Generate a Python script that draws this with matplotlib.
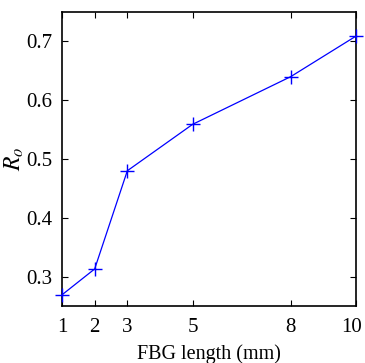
import numpy as np
import matplotlib
matplotlib.use("Agg")
import matplotlib.pyplot as plt
import matplotlib.transforms as mtransforms

# FBG length (mm) vs R_o
fbg_length = [1, 2, 3, 5, 8, 10]
r_o = [0.269, 0.313, 0.480, 0.559, 0.640, 0.709]
xtick_vals = [1, 2, 3, 5, 8, 10]
ytick_vals = [0.3, 0.4, 0.5, 0.6, 0.7]

plt.rcParams['font.family'] = ['Liberation Serif', 'DejaVu Serif']
plt.rcParams['mathtext.fontset'] = 'stix'

fig = plt.figure(figsize=(3.65, 3.63), dpi=100)
ax = fig.add_axes([62/365, 1-306/363, 294/365, 294/363])

ax.plot(fbg_length, r_o, color='blue', lw=0.9, marker='+', ms=10, mew=1.0,
        clip_on=False, zorder=5)

ax.set_xlim(1, 10)
ax.set_ylim(0.25, 0.75)
ax.set_xticks(xtick_vals)
ax.set_yticks(ytick_vals)
ax.tick_params(direction='in', top=True, right=True, labelsize=15, length=4, width=0.8)
ax.tick_params(axis='x', pad=9)
ax.tick_params(axis='y', pad=7)
for s in ax.spines.values():
    s.set_linewidth(1.2)

# last x label sits a bit left so it stays inside the figure
last = ax.get_xticklabels()[-1]
last.set_transform(last.get_transform() + mtransforms.ScaledTranslation(-4/100, 0, fig.dpi_scale_trans))

ax.set_xlabel('FBG length (mm)', fontsize=14.5, labelpad=5)
ax.set_ylabel(r'$R_o$', fontsize=17, labelpad=0)

fig.savefig('out.png', dpi=100)
